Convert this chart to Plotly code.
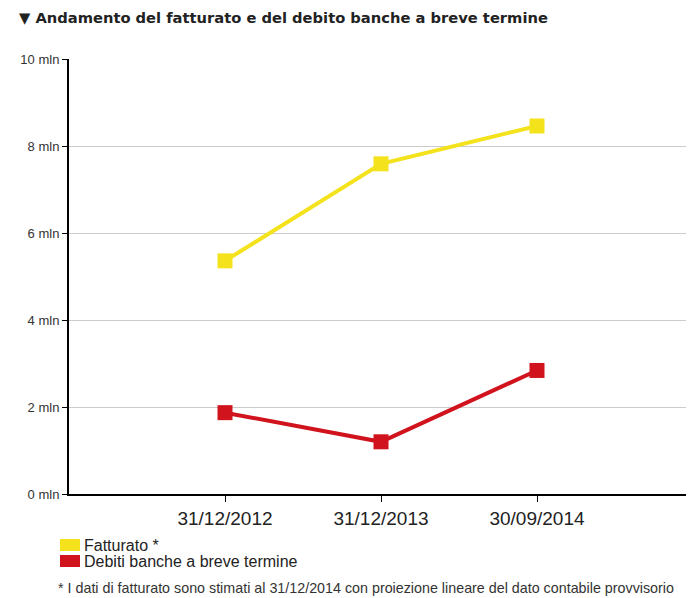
import plotly.graph_objects as go

categories = ["31/12/2012", "31/12/2013", "30/09/2014"]
fatturato = [5.36, 7.59, 8.46]
debiti = [1.87, 1.20, 2.84]
y_ticks = [0, 2, 4, 6, 8, 10]
y_tick_labels = [f"{v} mln" for v in y_ticks]
series_names = ["Fatturato *", "Debiti banche a breve termine"]
title_text = "▼ Andamento del fatturato e del debito banche a breve termine"
footnote = "* I dati di fatturato sono stimati al 31/12/2014 con proiezione lineare del dato contabile provvisorio"

YELLOW = "#F3E21C"
RED = "#D0131D"

OFF = 8  # default page body margin of the HTML page
W, H = 694 - OFF, 598 - OFF
PL, PT, PW, PH = 69 - OFF, 59 - OFF, 624, 435  # plot area in figure pixels

x_idx = list(range(len(categories)))

fig = go.Figure()
for vals, color, name in [(fatturato, YELLOW, series_names[0]), (debiti, RED, series_names[1])]:
    fig.add_trace(go.Scatter(
        x=x_idx, y=vals, mode="lines+markers", name=name,
        line=dict(color=color, width=4),
        marker=dict(symbol="square", size=15, color=color),
        showlegend=False,
    ))

fig.update_layout(
    width=W, height=H,
    margin=dict(l=PL, r=W - PL - PW, t=PT, b=H - PT - PH, autoexpand=False),
    paper_bgcolor="white", plot_bgcolor="white",
    font=dict(family="Liberation Sans, Arial, sans-serif", color="#333333"),
    xaxis=dict(
        range=[-1, len(categories)],
        tickvals=x_idx + [len(categories)],
        ticktext=categories + [""],
        ticks="outside", ticklen=6, tickcolor="#000000",
        showline=True, linecolor="#000000", linewidth=2,
        showgrid=False, zeroline=False, automargin=False,
        tickfont=dict(size=19, color="#222222"),
    ),
    yaxis=dict(
        range=[0, 10],
        tickvals=y_ticks, ticktext=y_tick_labels,
        ticks="outside", ticklen=5, tickcolor="#000000",
        showline=True, linecolor="#000000", linewidth=2,
        showgrid=True, gridcolor="#CCCCCC", gridwidth=1,
        zeroline=False, automargin=False,
        tickfont=dict(size=13, color="#333333"),
    ),
)

def px(xp):
    return (xp - OFF - PL) / PW

def py(yp):
    return (PT + PH - (yp - OFF)) / PH

fig.add_annotation(
    xref="paper", yref="paper", x=px(17), y=py(18), xanchor="left", yanchor="middle",
    text="<b>" + title_text + "</b>", showarrow=False,
    font=dict(family="DejaVu Sans, Verdana, sans-serif", size=14.7, color="#222222"),
)

# custom legend
legend_rows = [(YELLOW, series_names[0], 545), (RED, series_names[1], 561)]
for color, name, ypix in legend_rows:
    fig.add_shape(type="rect", xref="paper", yref="paper",
                  x0=px(60), x1=px(80), y0=py(ypix + 6), y1=py(ypix - 6),
                  fillcolor=color, line=dict(width=0))
    fig.add_annotation(xref="paper", yref="paper", x=px(82), y=py(ypix),
                       xanchor="left", yanchor="middle", text=name, showarrow=False,
                       font=dict(size=16, color="#222222"))

fig.add_annotation(xref="paper", yref="paper", x=px(56), y=py(588),
                   xanchor="left", yanchor="middle", text=footnote, showarrow=False,
                   font=dict(size=14.3, color="#333333"))

fig.write_html("out.html")
